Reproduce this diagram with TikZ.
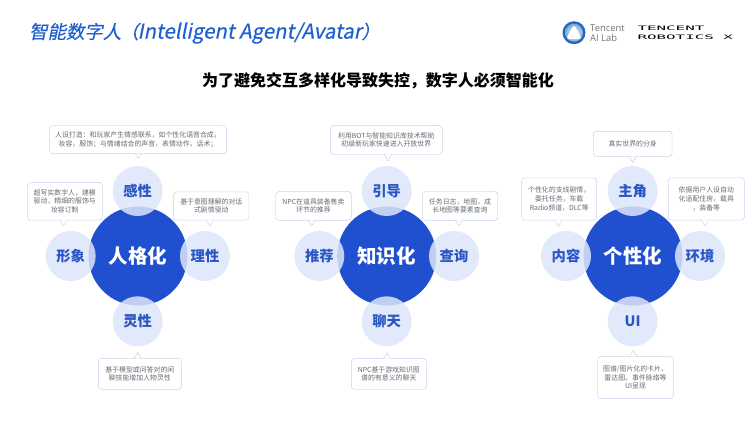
\documentclass[tikz,border=0pt]{standalone}
\usepackage{fontspec}
\setmainfont{Noto Sans CJK SC}
\newfontfamily\titlefont[FakeSlant=0.2,FakeBold=0.5]{Noto Sans CJK SC}
\newfontfamily\labfont{Open Sans}
\newfontfamily\robofont{DejaVu Sans Mono}
\definecolor{titleblue}{HTML}{1F5FD0}
\definecolor{mainblue}{HTML}{2050D0}
\definecolor{sidefill}{HTML}{DDE5F9}
\definecolor{sidetext}{HTML}{2A55C4}
\definecolor{bubbleline}{HTML}{AFBDDC}
\definecolor{bubbletext}{HTML}{666A72}
\definecolor{labblue}{HTML}{2468BE}
\tikzset{
    maincirc/.style={circle,fill=mainblue,text=white,minimum size=99pt,inner sep=0pt,font=\fontsize{19.5}{22}\selectfont\bfseries},
    sidecirc/.style={circle,fill=sidefill,fill opacity=0.85,text opacity=1,text=sidetext,minimum size=50pt,inner sep=0pt,font=\fontsize{14.3}{16}\selectfont\bfseries},
    bubbleedge/.style={draw=bubbleline,line width=0.5pt,dash pattern=on 1.2pt off 0.8pt},
    bubble/.style={rectangle,bubbleedge,rounded corners=3pt,text=bubbletext,align=center,inner sep=0pt,font=\fontsize{6.9}{8.6}\selectfont},
    robotext/.style={anchor=west,inner sep=0pt,xscale=2.6,transform shape,font=\robofont\fontsize{6.1}{7}\selectfont},
}
\begin{document}
\begin{tikzpicture}[x=1pt,y=-1pt]
    \useasboundingbox (0,0) rectangle (756,426);
    % header
    \node[anchor=west,inner sep=0pt,text=titleblue,font=\titlefont\fontsize{18.4}{20}\selectfont] (title) at (29,33) {智能数字人\hspace{-1pt}（\hspace{-1pt}{\fontsize{20.4}{20}\selectfont Intelligent Agent/Avatar}\hspace{0pt}）};
    \node[inner sep=0pt,font=\fontsize{16}{18}\selectfont\bfseries] (head) at (378,81) {为了避免交互多样化导致失控，数字人必须智能化};
    % logos
    \fill[labblue] (574,32.7) circle (11.5);
    \shade[inner color=white,outer color=labblue!60] (574,32.7) circle (9);
    \fill[white,rounded corners=3pt] (574,24.5) -- (582,39) -- (566,39) -- cycle;
    \node[anchor=west,inner sep=0pt,text=black!55,align=left,font=\labfont\fontsize{9.4}{10.4}\selectfont] (lab) at (590,33) {Tencent\\AI Lab};
    \node[robotext] (robo1) at (637,28.5) {TENCENT};
    \node[robotext] (robo2) at (637,37.5) {ROBOTICS X};
    % main circles
    \node[maincirc] (ren) at (138,256) {人格化};
    \node[maincirc] (zhi) at (386.7,256) {知识化};
    \node[maincirc] (ge) at (633,256) {个性化};
    % side circles
    \foreach \nm/\x/\y/\txt in {gan/137.7/191/感性,xing/70.7/256/形象,li/205/256/理性,ling/137.7/321.3/灵性,
        yin/386.7/191/引导,tui/319.3/256/推荐,cha/454/256/查询,liao/386.7/321.3/聊天,
        zhu/632.7/191/主角,nei/566/256/内容,huan/700/256/环境,ui/632.7/321.3/UI} {
        \node[sidecirc] (\nm) at (\x,\y) {\txt};
    }
    % bubbles: center, size, side of the tip, tip
    \foreach \nm/\x/\y/\w/\h/\s/\tx/\ty/\txt in {
        bgan/138/139.7/177.4/28/1/138.3/158.3/{人设打造：和玩家产生情感联系，如个性化语音合成，\\妆容，服饰；与情绪结合的声音，表情动作，话术；},
        bxing/64.8/201.2/75/37.7/1/63.3/226/{超写实数字人，建模\\驱动，精细的服饰与\\妆容订制},
        bli/211.3/205.9/75.3/28.3/1/210/226/{基于意图理解的对话\\式剧情驱动},
        bling/139.8/373.8/83/31/-1/137.7/352.3/{基于模型或问答对的闲\\聊技能增加人物灵性},
        byin/386.3/140/112/28.6/1/387.7/161/{利用BOT与智能知识库技术帮助\\初级新玩家快速进入开放世界},
        btui/313.5/206/75.6/28.6/1/311.7/226/{NPC在道具装备售卖\\环节的推荐},
        bcha/460/206/75.4/28.6/1/459/226/{任务日志，地图，成\\长地图等要素查询},
        bliao/388.8/374/75/30.6/-1/387/352.7/{NPC基于游戏知识图\\谱的有意义的聊天},
        bzhu/632.7/143.8/78.7/25/1/632.7/162.3/{真实世界的分身},
        bnei/559.2/198.9/75/42.3/1/558.3/226/{个性化的支线剧情，\\委托任务，车载\\Radio频道，DLC等},
        bhuan/706.3/198.9/76/42.3/1/705/226/{依据用户人设自动\\化适配住房，载具\\，装备等},
        bui/635.5/377.7/75.6/42/-1/633.3/350/{图谱/图片化的卡片、\\雷达图、事件脉络等\\UI呈现}} {
        \node[bubble,minimum width=\w pt,minimum height=\h pt] (\nm) at (\x,\y) {\txt};
        \pgfmathsetmacro{\by}{\y+\s*\h/2}
        \coordinate (\nm tip) at (\tx,\ty);
        \coordinate (\nm a) at ({\tx-3.5},\by);
        \coordinate (\nm b) at ({\tx+3.5},\by);
        \fill[white] (\nm a) -- (\nm tip) -- (\nm b) -- cycle;
        \draw[bubbleedge] (\nm a) -- (\nm tip) -- (\nm b);
    }
\end{tikzpicture}
\end{document}
